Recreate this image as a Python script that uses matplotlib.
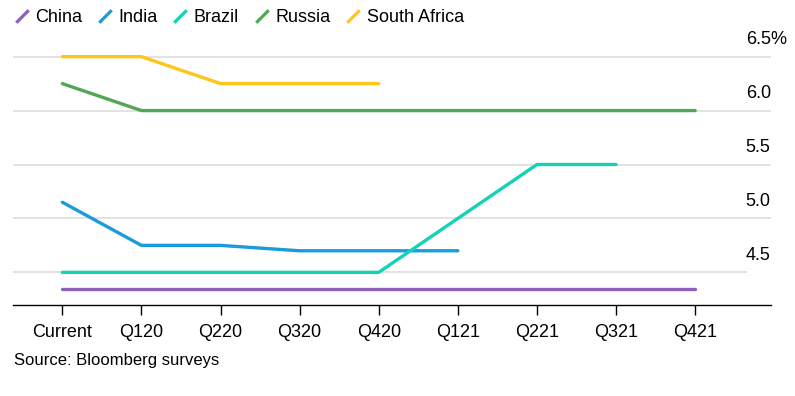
"""Bloomberg-style policy rate forecast chart for BRICS economies."""

import matplotlib

matplotlib.use("Agg")
import matplotlib.pyplot as plt
from matplotlib.lines import Line2D
from matplotlib.path import Path

plt.rcParams["font.family"] = ["Liberation Sans", "DejaVu Sans"]

quarters = ["Current", "Q120", "Q220", "Q320", "Q420", "Q121", "Q221", "Q321", "Q421"]

china = [4.35, 4.35, 4.35, 4.35, 4.35, 4.35, 4.35, 4.35, 4.35]
india = [5.15, 4.75, 4.75, 4.70, 4.70, 4.70]
brazil = [4.50, 4.50, 4.50, 4.50, 4.50, 5.00, 5.50, 5.50]
russia = [6.25, 6.00, 6.00, 6.00, 6.00, 6.00, 6.00, 6.00, 6.00]
south_africa = [6.50, 6.50, 6.25, 6.25, 6.25]

y_ticks = [4.5, 5.0, 5.5, 6.0, 6.5]
y_tick_labels = ["4.5", "5.0", "5.5", "6.0", "6.5%"]

series = [
    ("China", china, "#8c60bb"),
    ("India", india, "#1a9bdb"),
    ("Brazil", brazil, "#12d3b4"),
    ("Russia", russia, "#50a852"),
    ("South Africa", south_africa, "#ffc51a"),
]

W, H = 795, 396
fig = plt.figure(figsize=(W / 100, H / 100), dpi=100)
ax_left, ax_right = 13.3, 770.7
ax_bottom, ax_top = 304.7, 29.7
ax = fig.add_axes([ax_left / W, 1 - ax_bottom / H, (ax_right - ax_left) / W, (ax_bottom - ax_top) / H])

x_pos = list(range(len(quarters)))

# grid lines, the lowest one stops short of the label column
label_x = 0.967
for val in y_ticks:
    ax.axhline(val, xmin=0, xmax=label_x if val == y_ticks[0] else 1.0,
               color="#e0e0e0", linewidth=1.3, zorder=1)

for name, values, color in series:
    ax.plot(x_pos[: len(values)], values, color=color, linewidth=2.4,
            solid_capstyle="round", solid_joinstyle="round", zorder=3)

ax.set_xlim(-0.62, 8.955)
ax.set_ylim(4.2, 6.75)
ax.set_xticks(x_pos)
ax.set_xticklabels(quarters, fontsize=13)
ax.set_yticks([])
ax.tick_params(axis="x", direction="out", length=7, width=1, color="black", pad=7)

for spine in ["top", "right", "left"]:
    ax.spines[spine].set_visible(False)
ax.spines["bottom"].set_linewidth(1.0)
ax.spines["bottom"].set_color("black")

# value labels sit above their grid lines on the right
for val, lab in zip(y_ticks, y_tick_labels):
    ax.annotate(lab, xy=(label_x, val), xycoords=("axes fraction", "data"),
                xytext=(0, 12), textcoords="offset points",
                ha="left", va="center", fontsize=13)

# legend with short diagonal strokes as keys
stroke = Path([(-1, -1), (1, 1)], [Path.MOVETO, Path.LINETO])
handles = [
    Line2D([], [], linestyle="none", marker=stroke, markersize=9,
           markeredgewidth=2.3, color=color)
    for _, _, color in series
]
fig.legend(
    handles,
    [name for name, _, _ in series],
    loc="center left",
    bbox_to_anchor=(14.3 / W, 1 - 18 / H),
    bbox_transform=fig.transFigure,
    ncol=5,
    frameon=False,
    fontsize=13,
    numpoints=1,
    handlelength=0.8,
    handletextpad=0.35,
    columnspacing=0.86,
    borderpad=0,
    borderaxespad=0,
)

fig.text(14 / W, 1 - 360 / H, "Source: Bloomberg surveys", ha="left", va="center", fontsize=12)

fig.savefig("out.png", dpi=100, facecolor="white")
